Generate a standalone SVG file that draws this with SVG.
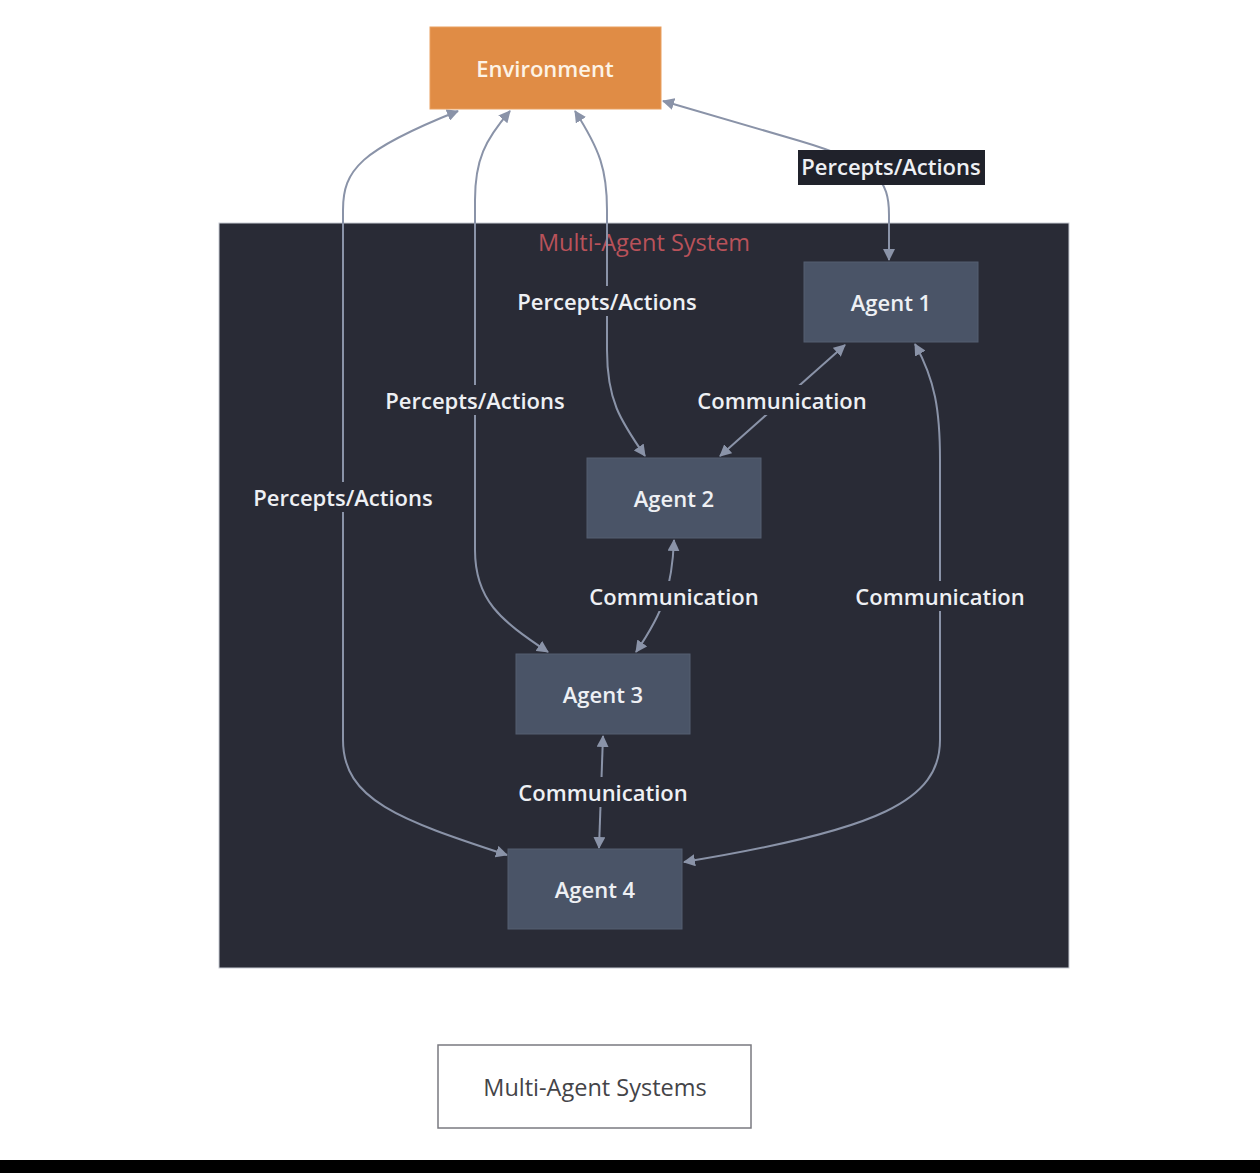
<svg xmlns="http://www.w3.org/2000/svg" width="1260" height="1173" viewBox="0 0 1260 1173">
<defs>
<style>
.node{fill:#4a5467;stroke:#545e71;stroke-width:1}
.lbl{font-family:"Open Sans","Noto Sans",sans-serif;font-size:22px;font-weight:600;fill:#eef0f4;text-anchor:middle;dominant-baseline:central}
.edge{fill:none;stroke:#8a93a8;stroke-width:2}
.lblbg{fill:#292b36}
</style>
<marker id="arr" viewBox="0 0 12 12" refX="11" refY="6" markerWidth="12" markerHeight="12" markerUnits="userSpaceOnUse" orient="auto-start-reverse">
<path d="M0,0 L12,6 L0,12 z" fill="#8a93a8"/>
</marker>
</defs>
<rect width="1260" height="1173" fill="#ffffff"/>
<g id="cluster">
<rect x="219" y="223" width="850" height="745" fill="#292b36" stroke="#c8ccd4" stroke-width="1"/>
<text x="644" y="242" class="lbl" style="fill:#b9525a;font-weight:400;font-size:23.5px">Multi-Agent System</text>
</g>
<g id="connectors">
<path class="edge" d="M663,101 L800,141 C878,164 889,180 889,215 L889,260" marker-start="url(#arr)" marker-end="url(#arr)"/>
<path class="edge" d="M575,111 C600,150 607,170 607,210 L607,350 C607,400 620,420 645,456" marker-start="url(#arr)" marker-end="url(#arr)"/>
<path class="edge" d="M510,111 C485,140 475,160 475,200 L475,550 C475,600 500,620 548,652" marker-start="url(#arr)" marker-end="url(#arr)"/>
<path class="edge" d="M458,111 C360,150 343,170 343,210 L343,740 C343,800 400,820 507,855" marker-start="url(#arr)" marker-end="url(#arr)"/>
<path class="edge" d="M845,345 L720,456" marker-start="url(#arr)" marker-end="url(#arr)"/>
<path class="edge" d="M674,540 C672,585 665,610 636,652" marker-start="url(#arr)" marker-end="url(#arr)"/>
<path class="edge" d="M603,736 L599,848" marker-start="url(#arr)" marker-end="url(#arr)"/>
<path class="edge" d="M915,344 C935,380 940,410 940,460 L940,740 C940,800 880,830 684,862" marker-start="url(#arr)" marker-end="url(#arr)"/>
</g>
<g id="edge-labels">
<rect x="798" y="150" width="187" height="35" fill="#20222b"/>
<text x="891" y="166" class="lbl">Percepts/Actions</text>
<rect x="512" y="286" width="190" height="30" class="lblbg"/>
<text x="607" y="301" class="lbl">Percepts/Actions</text>
<rect x="380" y="385" width="190" height="30" class="lblbg"/>
<text x="475" y="400" class="lbl">Percepts/Actions</text>
<rect x="248" y="482" width="190" height="30" class="lblbg"/>
<text x="343" y="497" class="lbl">Percepts/Actions</text>
<rect x="696" y="385" width="173" height="30" class="lblbg"/>
<text x="782" y="400" class="lbl">Communication</text>
<rect x="587" y="581" width="173" height="30" class="lblbg"/>
<text x="674" y="596" class="lbl">Communication</text>
<rect x="854" y="581" width="173" height="30" class="lblbg"/>
<text x="940" y="596" class="lbl">Communication</text>
<rect x="517" y="777" width="173" height="30" class="lblbg"/>
<text x="603" y="792" class="lbl">Communication</text>
</g>
<g id="environment">
<rect x="430" y="27" width="231" height="82" fill="#e08c45" stroke="#e9a060" stroke-width="1"/>
<text x="545" y="68" class="lbl" style="fill:#fdf3e6">Environment</text>
</g>
<g id="agent1">
<rect x="804" y="262" width="174" height="80" class="node"/>
<text x="891" y="302" class="lbl">Agent 1</text>
</g>
<g id="agent2">
<rect x="587" y="458" width="174" height="80" class="node"/>
<text x="674" y="498" class="lbl">Agent 2</text>
</g>
<g id="agent3">
<rect x="516" y="654" width="174" height="80" class="node"/>
<text x="603" y="694" class="lbl">Agent 3</text>
</g>
<g id="agent4">
<rect x="508" y="849" width="174" height="80" class="node"/>
<text x="595" y="889" class="lbl">Agent 4</text>
</g>
<g id="caption">
<rect x="438" y="1045" width="313" height="83" fill="#ffffff" stroke="#7a7a80" stroke-width="1.5"/>
<text x="595" y="1087" class="lbl" style="fill:#444448;font-weight:400;font-size:23.5px">Multi-Agent Systems</text>
</g>
<rect x="0" y="1160" width="1260" height="13" fill="#000000"/>
</svg>
